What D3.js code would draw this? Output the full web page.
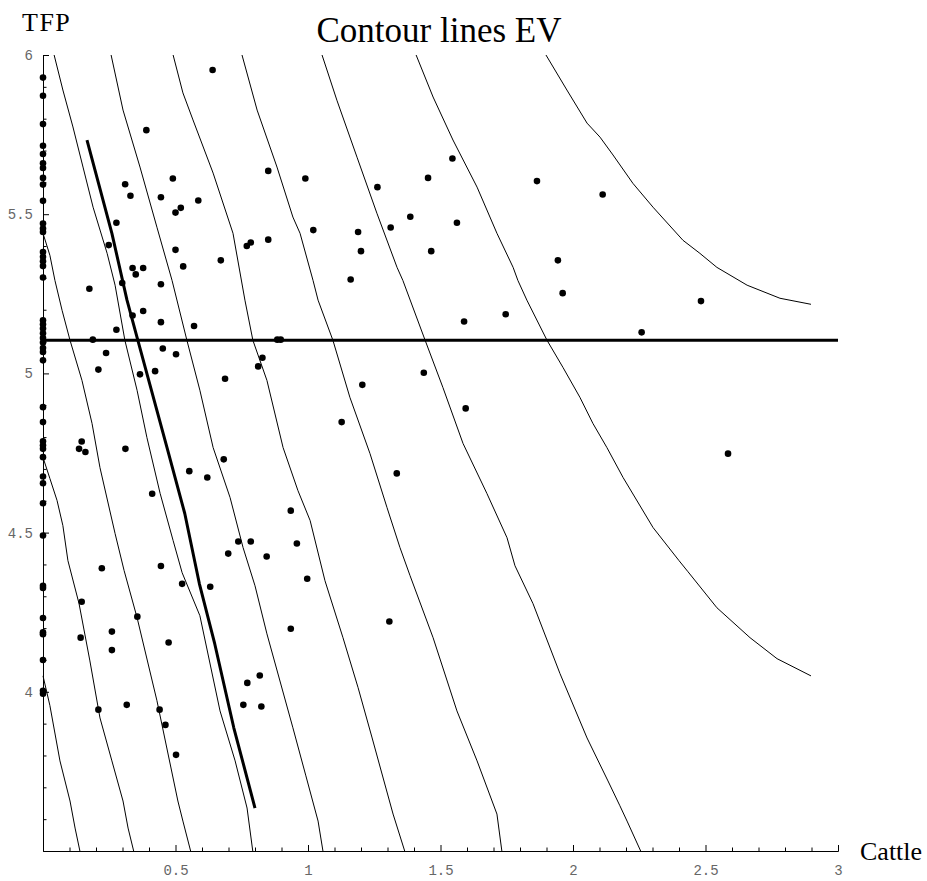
<!DOCTYPE html>
<html>
<head>
<meta charset="utf-8">
<script src="https://cdn.jsdelivr.net/npm/d3@7"></script>
<style>
    body { margin: 0; background: #fff; }
    svg { display: block; }
</style>
</head>
<body>
<svg id="svg_chart"></svg>
<script>
// farms with no cattle (sit on the TFP axis)
const zeroCattleTFP = [5.929, 5.872, 5.783, 5.715, 5.689, 5.660, 5.645, 5.614, 5.593, 5.542,
    5.471, 5.455, 5.444, 5.381, 5.366, 5.352, 5.337, 5.301, 5.167, 5.154, 5.141, 5.126, 5.111,
    5.097, 5.080, 5.067, 5.041, 4.894, 4.847, 4.787, 4.774, 4.763, 4.737, 4.676, 4.655, 4.592,
    4.491, 4.333, 4.326, 4.232, 4.187, 4.181, 4.100, 4.003, 3.994];

// other farms: [cattle, TFP]
const farmPoints = [
    [0.64, 5.953], [0.39, 5.764], [0.85, 5.636], [0.99, 5.612], [0.49, 5.612], [0.31, 5.594],
    [0.33, 5.558], [0.445, 5.553], [0.586, 5.543], [0.52, 5.52], [0.50, 5.505], [0.277, 5.473],
    [1.02, 5.45], [0.248, 5.403], [0.50, 5.388], [0.85, 5.42], [0.769, 5.40], [0.784, 5.411],
    [0.671, 5.355], [0.338, 5.331], [0.378, 5.331], [0.35, 5.311], [0.529, 5.336], [0.445, 5.28],
    [0.299, 5.284], [0.175, 5.266], [0.378, 5.196], [0.338, 5.182], [0.445, 5.161], [0.277, 5.137],
    [0.57, 5.149], [0.188, 5.106], [0.884, 5.106], [0.897, 5.106], [0.238, 5.064], [0.452, 5.078],
    [0.502, 5.06], [0.828, 5.049], [0.812, 5.022], [0.209, 5.012], [0.366, 4.997], [0.423, 5.007],
    [0.687, 4.983], [0.146, 4.786], [0.136, 4.763], [0.16, 4.753], [0.311, 4.763], [0.682, 4.73],
    [0.552, 4.693], [0.62, 4.673], [0.412, 4.622], [0.935, 4.569], [0.737, 4.472], [0.784, 4.472],
    [0.958, 4.466], [0.699, 4.434], [0.844, 4.425], [0.222, 4.388], [0.445, 4.395], [0.997, 4.355],
    [0.525, 4.339], [0.631, 4.33], [0.146, 4.283], [0.356, 4.236], [0.142, 4.17], [0.26, 4.189],
    [0.474, 4.155], [0.26, 4.131], [0.935, 4.198], [0.818, 4.051], [0.771, 4.028], [0.209, 3.944],
    [0.316, 3.959], [0.44, 3.944], [0.462, 3.896], [0.756, 3.959], [0.824, 3.954], [0.502, 3.802],
    [1.545, 5.675], [1.453, 5.614], [1.864, 5.604], [2.112, 5.562], [1.262, 5.585], [1.189, 5.444],
    [1.312, 5.458], [1.386, 5.492], [1.562, 5.473], [1.2, 5.384], [1.465, 5.384], [1.161, 5.295],
    [1.943, 5.355], [1.961, 5.252], [1.589, 5.163], [1.746, 5.186], [1.437, 5.002], [1.205, 4.964],
    [1.127, 4.847], [1.595, 4.89], [1.335, 4.686], [1.307, 4.221], [2.483, 5.227], [2.259, 5.129],
    [2.585, 4.748]
];

// EV contour lines, each as [cattle, TFP] points
const contour1 = [[0, 4.05], [0.026, 3.957], [0.064, 3.783], [0.102, 3.657], [0.121, 3.572], [0.14, 3.497]];
const contour2 = [[0, 4.736], [0.026, 4.67], [0.053, 4.601], [0.075, 4.522], [0.094, 4.412], [0.136, 4.277],
    [0.177, 4.097], [0.215, 3.918], [0.26, 3.783], [0.302, 3.657], [0.321, 3.572], [0.343, 3.497]];
const contour3 = [[0, 5.44], [0.026, 5.371], [0.045, 5.292], [0.072, 5.198], [0.102, 5.104], [0.147, 4.978],
    [0.185, 4.843], [0.215, 4.704], [0.272, 4.497], [0.306, 4.381], [0.355, 4.233], [0.43, 3.972],
    [0.509, 3.657], [0.528, 3.594], [0.558, 3.497]];
const contour4 = [[0.042, 6.0], [0.075, 5.89], [0.113, 5.774], [0.151, 5.648], [0.189, 5.522], [0.242, 5.377],
    [0.272, 5.277], [0.309, 5.104], [0.355, 4.947], [0.392, 4.799], [0.442, 4.623], [0.491, 4.475],
    [0.525, 4.374], [0.592, 4.239], [0.668, 3.94], [0.725, 3.783], [0.77, 3.635], [0.792, 3.497]];
const contour5 = [[0.257, 6.0], [0.302, 5.827], [0.366, 5.648], [0.43, 5.459], [0.487, 5.292], [0.543, 5.104],
    [0.592, 4.947], [0.642, 4.767], [0.706, 4.61], [0.755, 4.453], [0.8, 4.333], [0.845, 4.182],
    [0.943, 3.887], [0.992, 3.736], [1.038, 3.594], [1.057, 3.497]];
const contour6 = [[0.491, 6.0], [0.528, 5.881], [0.566, 5.796], [0.642, 5.629], [0.717, 5.44], [0.762, 5.23],
    [0.792, 5.104], [0.845, 4.978], [0.906, 4.767], [0.962, 4.632], [1.008, 4.538], [1.064, 4.349],
    [1.132, 4.17], [1.189, 4.013], [1.242, 3.855], [1.321, 3.616], [1.366, 3.497]];
const contour7 = [[0.751, 6.0], [0.808, 5.827], [0.883, 5.648], [0.943, 5.491], [0.97, 5.44], [1.019, 5.292],
    [1.038, 5.23], [1.094, 5.104], [1.158, 4.925], [1.234, 4.748], [1.298, 4.579], [1.347, 4.453],
    [1.385, 4.365], [1.472, 4.17], [1.562, 3.94], [1.638, 3.783], [1.713, 3.616], [1.732, 3.497]];
const contour8 = [[1.053, 6.0], [1.109, 5.858], [1.185, 5.679], [1.26, 5.503], [1.336, 5.333], [1.358, 5.292],
    [1.442, 5.104], [1.509, 4.956], [1.585, 4.78], [1.675, 4.623], [1.751, 4.484], [1.781, 4.396],
    [1.849, 4.277], [1.951, 4.057], [2.053, 3.855], [2.132, 3.72], [2.177, 3.642], [2.204, 3.594],
    [2.257, 3.497]];
const contour9 = [[1.408, 6.0], [1.472, 5.868], [1.547, 5.733], [1.638, 5.585], [1.713, 5.44], [1.774, 5.333],
    [1.792, 5.292], [1.826, 5.23], [1.902, 5.104], [1.962, 5.019], [2.026, 4.925], [2.075, 4.843],
    [2.128, 4.767], [2.189, 4.673], [2.302, 4.516], [2.4, 4.412], [2.434, 4.377], [2.543, 4.264],
    [2.668, 4.17], [2.77, 4.104], [2.898, 4.05]];
const contour10 = [[1.898, 6.0], [1.977, 5.89], [2.053, 5.786], [2.102, 5.742], [2.151, 5.686], [2.226, 5.597],
    [2.302, 5.522], [2.415, 5.418], [2.479, 5.377], [2.543, 5.333], [2.657, 5.277], [2.781, 5.236],
    [2.898, 5.217]];

// bold line through the cloud and the bold horizontal TFP level
const boldPath = [[0.166, 5.733], [0.26, 5.44], [0.317, 5.23], [0.358, 5.104], [0.468, 4.767], [0.535, 4.56],
    [0.59, 4.34], [0.648, 4.151], [0.72, 3.887], [0.8, 3.635]];
const tfpLevel = 5.104;

// tick values
const xMajorTicks = [0.5, 1, 1.5, 2, 2.5, 3];
const yMajorTicks = [4, 4.5, 5, 5.5, 6];

let chartWidth = 927;
let chartHeight = 881;

let svg = d3.select("#svg_chart")
    .attr("width", chartWidth)
    .attr("height", chartHeight);

// scales
let x = d3.scaleLinear().domain([0, 3]).range([43, 838]);
let y = d3.scaleLinear().domain([3.5, 6]).range([851, 55]);

let line = d3.line()
    .x(d => x(d[0]))
    .y(d => y(d[1]));

// thin contour lines
svg.append("g")
    .selectAll("path")
    .data([contour1, contour2, contour3, contour4, contour5, contour6, contour7, contour8, contour9, contour10])
    .enter().append("path")
        .attr("d", line)
        .attr("fill", "none")
        .attr("stroke", "#000")
        .attr("stroke-width", 1);

// bold lines
svg.append("path")
    .attr("d", line(boldPath))
    .attr("fill", "none")
    .attr("stroke", "#000")
    .attr("stroke-width", 3)
    .attr("stroke-linejoin", "round");

svg.append("path")
    .attr("d", line([[0, tfpLevel], [3, tfpLevel]]))
    .attr("fill", "none")
    .attr("stroke", "#000")
    .attr("stroke-width", 3);

// axes: major ticks with labels, minor ticks without
let xMinor = d3.range(1, 31).map(i => i / 10).filter(v => !xMajorTicks.some(m => Math.abs(m - v) < 1e-9));
let yMinor = d3.range(36, 61).map(i => i / 10).filter(v => !yMajorTicks.some(m => Math.abs(m - v) < 1e-9));

svg.append("g")
    .attr("transform", "translate(0," + y(3.5) + ")")
    .call(d3.axisBottom(x).tickValues(xMinor).tickSizeInner(-3.5).tickSizeOuter(0).tickFormat(""));

svg.append("g")
    .attr("transform", "translate(0," + y(3.5) + ")")
    .call(d3.axisBottom(x).tickValues(xMajorTicks).tickSizeInner(-6).tickSizeOuter(0)
        .tickPadding(14).tickFormat(d3.format("")));

svg.append("g")
    .attr("transform", "translate(" + x(0) + ",0)")
    .call(d3.axisLeft(y).tickValues(yMinor).tickSizeInner(-3.5).tickSizeOuter(0).tickFormat(""));

svg.append("g")
    .attr("transform", "translate(" + x(0) + ",0)")
    .call(d3.axisLeft(y).tickValues(yMajorTicks).tickSizeInner(-6).tickSizeOuter(0)
        .tickPadding(10).tickFormat(d3.format("")));

svg.selectAll(".tick line").attr("stroke", "#000");
svg.selectAll(".domain").attr("stroke", "#000");
svg.selectAll(".tick text")
    .attr("fill", "#666")
    .attr("font-family", "'Liberation Mono', 'DejaVu Sans Mono', monospace")
    .attr("font-size", 14);

// farm dots
svg.append("g")
    .selectAll("circle")
    .data(zeroCattleTFP.map(v => [0, v]).concat(farmPoints))
    .enter().append("circle")
        .attr("cx", d => x(d[0]))
        .attr("cy", d => y(d[1]))
        .attr("r", 3.3)
        .attr("fill", "#000");

// title and axis names
svg.append("text")
    .attr("x", 439)
    .attr("y", 42)
    .attr("text-anchor", "middle")
    .attr("font-family", "'Liberation Serif', 'Times New Roman', serif")
    .attr("font-size", 35)
    .text("Contour lines EV");

svg.append("text")
    .attr("x", 22)
    .attr("y", 31)
    .attr("font-family", "'Liberation Serif', 'Times New Roman', serif")
    .attr("font-size", 26)
    .attr("letter-spacing", 1.5)
    .text("TFP");

svg.append("text")
    .attr("x", 860)
    .attr("y", 860)
    .attr("font-family", "'Liberation Serif', 'Times New Roman', serif")
    .attr("font-size", 26)
    .text("Cattle");
</script>
</body>
</html>
